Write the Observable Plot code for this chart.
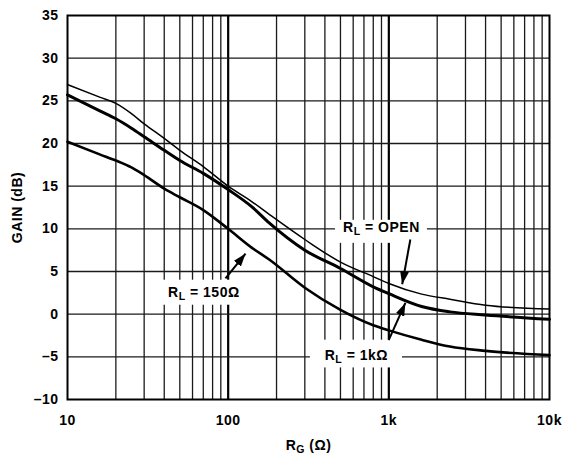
<!DOCTYPE html>
<html>
<head>
<meta charset="utf-8">
<script src="https://cdn.jsdelivr.net/npm/d3@7"></script>
<script src="https://cdn.jsdelivr.net/npm/@observablehq/plot@0.6"></script>
<style>
  body { margin: 0; background: #fff; }
  #chart { width: 562px; height: 458px; }
</style>
</head>
<body>
<div id="chart"></div>
<script>
// ---- data ----
const rg       = [10, 16, 20, 25, 30, 40, 50, 70, 100, 140, 180, 300, 500, 800, 1000, 1600, 2400, 4000, 10000];
const gainOpen = [26.9, 25.4, 24.7, 23.5, 22.3, 20.6, 19.2, 17.3, 15.0, 13.2, 11.7, 8.75, 6.1, 4.4, 3.6, 2.35, 1.75, 1.05, 0.6];
const gain1k   = [25.7, 23.8, 22.9, 21.8, 20.8, 19.2, 18.0, 16.5, 14.6, 12.6, 10.7, 7.5, 5.35, 3.2, 2.4, 0.9, 0.27, -0.1, -0.6];
const gain150  = [20.2, 18.7, 18.0, 17.2, 16.3, 14.7, 13.7, 12.2, 10.0, 7.8, 6.4, 3.1, 0.5, -1.3, -1.9, -3.0, -3.8, -4.3, -4.8];

const xTicks      = [10, 100, 1000, 10000];
const xTickLabels = ["10", "100", "1k", "10k"];
const yTicks      = [-10, -5, 0, 5, 10, 15, 20, 25, 30, 35];
const yTickLabels = ["\u201310", "\u20135", "0", "5", "10", "15", "20", "25", "30", "35"];

const xGridMinor = [20, 30, 40, 50, 60, 70, 80, 90, 200, 300, 400, 500, 600, 700, 800, 900, 2000, 3000, 4000, 5000, 6000, 7000, 8000, 9000];
const xGridMajor = [100, 1000];
const yGrid      = [-5, 0, 5, 10, 15, 20, 25, 30];

// annotations
const labelText = ["R_L = OPEN", "R_L = 1k\u03A9", "R_L = 150\u03A9"];
const labelX    = [899, 628, 70.6];
const labelY    = [10.2, -4.85, 2.55];
const boxX1     = [466, 325, 37.9];
const boxX2     = [1738, 1216, 128];
const boxY1     = [8.3, -6.3, 1.05];
const boxY2     = [11.0, -3.05, 3.98];
const arrowX1   = [1361, 998, 96.2];
const arrowY1   = [8.75, -3.04, 4.18];
const arrowX2   = [1211, 1268, 128.3];
const arrowY2   = [3.5, 1.32, 7.1];

const xLabel = "R_G (\u03A9)";
const yLabel = "GAIN (dB)";

// ---- tables built from the arrays ----
const rowsOpen = rg.map((r, i) => ({r, g: gainOpen[i]}));
const rows1k   = rg.map((r, i) => ({r, g: gain1k[i]}));
const rows150  = rg.map((r, i) => ({r, g: gain150[i]}));
const labels = labelText.map((t, i) => ({text: t, x: labelX[i], y: labelY[i]}));
const boxes  = boxX1.map((_, i) => ({x1: boxX1[i], x2: boxX2[i], y1: boxY1[i], y2: boxY2[i]}));
const arrows = arrowX1.map((_, i) => ({x1: arrowX1[i], y1: arrowY1[i], x2: arrowX2[i], y2: arrowY2[i]}));

const chart = Plot.plot({
  width: 562,
  height: 458,
  marginLeft: 67,
  marginRight: 13,
  marginTop: 15,
  marginBottom: 59,
  style: {
    fontFamily: "'Liberation Sans', Arial, Helvetica, sans-serif",
    fontSize: "14px",
    fontWeight: "bold",
    letterSpacing: "0.5px",
    color: "#000",
    background: "#fff"
  },
  x: {
    type: "log",
    domain: [10, 10000],
    ticks: xTicks,
    tickFormat: d => xTickLabels[xTicks.indexOf(d)],
    tickSize: 0,
    tickPadding: 16,
    label: null
  },
  y: {
    domain: [-10, 35],
    ticks: yTicks,
    tickFormat: d => yTickLabels[yTicks.indexOf(d)],
    tickSize: 0,
    tickPadding: 9,
    label: null
  },
  marks: [
    Plot.ruleX(xGridMinor, {stroke: "#1a1a1a", strokeWidth: 1.3}),
    Plot.ruleX(xGridMajor, {stroke: "#000", strokeWidth: 2.2}),
    Plot.ruleY(yGrid, {stroke: "#1a1a1a", strokeWidth: 1.3}),
    Plot.rect(boxes, {x1: "x1", x2: "x2", y1: "y1", y2: "y2", fill: "white"}),
    Plot.line(rowsOpen, {x: "r", y: "g", stroke: "black", strokeWidth: 1.5, curve: "monotone-x"}),
    Plot.line(rows1k, {x: "r", y: "g", stroke: "black", strokeWidth: 3, curve: "monotone-x"}),
    Plot.line(rows150, {x: "r", y: "g", stroke: "black", strokeWidth: 2.6, curve: "monotone-x"}),
    Plot.link(arrows, {x1: "x1", y1: "y1", x2: "x2", y2: "y2", stroke: "black", strokeWidth: 2}),
    Plot.text(labels, {x: "x", y: "y", text: "text", fill: "black", textAnchor: "middle", lineAnchor: "middle"}),
    Plot.text([yLabel], {frameAnchor: "left", dx: -50, rotate: -90, textAnchor: "middle", lineAnchor: "middle", fill: "black"}),
    Plot.text([xLabel], {frameAnchor: "bottom", dy: 46, textAnchor: "middle", lineAnchor: "middle", fill: "black"}),
    Plot.frame({stroke: "black", strokeWidth: 2})
  ]
});

document.getElementById("chart").appendChild(chart);

// subscripts: "R_L" -> R with subscript L
d3.select(chart).selectAll("text").each(function () {
  const t = this.textContent;
  const k = t.indexOf("_");
  if (k < 0) return;
  const head = t.slice(0, k), sub = t.charAt(k + 1), rest = t.slice(k + 2);
  const el = d3.select(this);
  el.text(null);
  el.append("tspan").text(head);
  el.append("tspan").attr("dy", 3).attr("font-size", "10.5px").text(sub);
  el.append("tspan").attr("dy", -3).text(rest);
});

// filled arrowheads on the annotation links
const svg = d3.select(chart);
const defs = svg.insert("defs", ":first-child");
defs.append("marker")
  .attr("id", "ahead")
  .attr("viewBox", "0 0 10 10")
  .attr("refX", 10).attr("refY", 5)
  .attr("markerWidth", 13).attr("markerHeight", 9)
  .attr("markerUnits", "userSpaceOnUse")
  .attr("preserveAspectRatio", "none")
  .attr("orient", "auto")
  .append("path").attr("d", "M0,0L10,5L0,10Z").attr("fill", "black");
svg.selectAll("g[aria-label=link] path").attr("marker-end", "url(#ahead)");
</script>
</body>
</html>
